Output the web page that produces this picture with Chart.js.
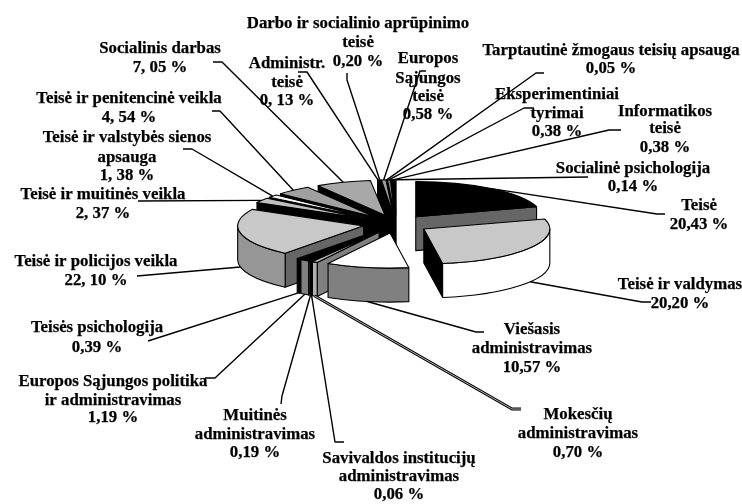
<!DOCTYPE html>
<html><head><meta charset="utf-8">
<style>html,body{margin:0;padding:0;background:#fff}canvas{display:block}</style>
<script src="https://cdn.jsdelivr.net/npm/chart.js@4"></script>
</head><body><canvas id="c" width="742" height="504"></canvas>
<script>
const categories = ["Teisė","Teisė ir valdymas","Viešasis administravimas","Mokesčių administravimas","Savivaldos institucijų administravimas","Muitinės administravimas","Europos Sąjungos politika ir administravimas","Teisės psichologija","Teisė ir policijos veikla","Teisė ir muitinės veikla","Teisė ir valstybės sienos apsauga","Teisė ir penitencinė veikla","Socialinis darbas","Administr. teisė","Darbo ir socialinio aprūpinimo teisė","Europos Sąjungos teisė","Tarptautinė žmogaus teisių apsauga","Eksperimentiniai tyrimai","Informatikos teisė","Socialinė psichologija"];
// Slice sizes as drawn. The second slice is printed "20,20 %" in the picture but drawn as about 27,2 %.
const shares = [20.43,27.20,10.57,0.70,0.06,0.19,1.19,0.39,22.10,2.37,1.38,4.54,7.05,0.13,0.20,0.58,0.05,0.38,0.38,0.14];
const printed = [
 ["Teisė","20,43 %"],["Teisė ir valdymas","20,20 %"],["Viešasis","administravimas","10,57 %"],
 ["Mokesčių","administravimas","0,70 %"],["Savivaldos institucijų","administravimas","0,06 %"],
 ["Muitinės","administravimas","0,19 %"],["Europos Sąjungos politika","ir administravimas","1,19 %"],
 ["Teisės psichologija","0,39 %"],["Teisė ir policijos veikla","22, 10 %"],["Teisė ir muitinės veikla","2, 37 %"],
 ["Teisė ir valstybės sienos","apsauga","1, 38 %"],["Teisė ir penitencinė veikla","4, 54 %"],["Socialinis darbas","7, 05 %"],
 ["Administr.","teisė","0, 13 %"],["Darbo ir socialinio aprūpinimo","teisė","0,20 %"],["Europos","Sąjungos","teisė","0,58 %"],
 ["Tarptautinė žmogaus teisių apsauga","0,05 %"],["Eksperimentiniai","tyrimai","0,38 %"],["Informatikos","teisė","0,38 %"],["Socialinė psichologija","0,14 %"]];
const topColors = ["#000000","#c8c8c8","#ffffff","#c0c0c0","#000000","#808080","#000000","#666666","#c8c8c8","#c0c0c0","#ffffff","#a0a0a0","#a8a8a8","#808080","#000000","#a0a0a0","#000000","#808080","#000000","#666666"];
const rimColors = ["#808080","#ffffff","#808080","#b0b0b0","#ffffff","#000000","#808080","#000000","#969696","#000000","#808080","#808080","#808080","#808080","#808080","#808080","#808080","#808080","#808080","#808080"];
const cutColors = ["#666666","#000000","#808080","#808080","#000000","#000000","#808080","#000000","#666666","#000000","#000000","#000000","#000000","#000000","#000000","#000000","#000000","#000000","#000000","#000000"];
const labelX = [699,680,532,578,399,255,113,97,96,103,127,129,160,287,358,428,611,557,665,633];
const labelY = [[206,225],[285,304],[330,349,368],[415,434,453],[459,477,495],[416,435,453],[382,401,418],[328,348],[262,281],[195,214],[138,158,176],[99,118],[49,68],[64,83,101],[24,43,62],[59,79,97,115],[51,69],[95,114,132],[112,129,148],[169,187]];
const leaderStart = [[[665,214],[657,214]],[[651,302],[642,302]],[[484,332],[476,332]],[[521,409],[512,409]],[[344,442],[335,442]],[[281,404],[282,396]],[[205,378],[215,378]],[[148,341]],[[137,276]],[[138,201]],[[183,149],[192,149]],[[212,111],[220,111]],[[213,62],[222,62]],[[298,72],[307,72]],[[347,73],[347,80]],[[426,71],[420,71]],[[544,73],[536,73]],[[534,108],[524,108]],[[621,130],[609,130]],[[588,177]]];
const SQUASH = 0.278, DEPTH = 34, EXPLODE = 33, RADIUS = 126;

const pie3d = {
  id:'pie3d',
  beforeDatasetsDraw(chart){
    const ctx = chart.ctx, meta = chart.getDatasetMeta(0);
    const w = meta.data.map((arc,i)=>{
      const a0 = arc.startAngle, a1 = arc.endAngle, m = (a0+a1)/2, e = arc.options.offset;
      return {i,a0,a1,m,R:arc.outerRadius,
        x:arc.x+e*Math.cos(m), y:arc.y+e*Math.sin(m)*SQUASH};
    });
    const stroke = ()=>{ctx.lineWidth=1.1;ctx.strokeStyle='#000';ctx.lineJoin='round';ctx.stroke();};
    const face = (p,a)=>{
      const px=p.x+p.R*Math.cos(a), py=p.y+p.R*SQUASH*Math.sin(a);
      ctx.beginPath();ctx.moveTo(p.x,p.y);ctx.lineTo(px,py);ctx.lineTo(px,py+DEPTH);ctx.lineTo(p.x,p.y+DEPTH);ctx.closePath();
      ctx.fillStyle=cutColors[p.i];ctx.fill();stroke();
    };
    [...w].sort((a,b)=>Math.sin(a.m)-Math.sin(b.m)).forEach(p=>{
      if(Math.cos(p.a0)<0) face(p,p.a0);
      if(Math.cos(p.a1)>0) face(p,p.a1);
      const r0=Math.max(p.a0,0), r1=Math.min(p.a1,Math.PI);
      if(r1>r0){
        ctx.beginPath();
        ctx.ellipse(p.x,p.y,p.R,p.R*SQUASH,0,r0,r1);
        ctx.ellipse(p.x,p.y+DEPTH,p.R,p.R*SQUASH,0,r1,r0,true);
        ctx.closePath();ctx.fillStyle=rimColors[p.i];ctx.fill();stroke();
      }
      ctx.beginPath();ctx.moveTo(p.x,p.y);
      ctx.ellipse(p.x,p.y,p.R,p.R*SQUASH,0,p.a0,p.a1);ctx.closePath();
      ctx.fillStyle=topColors[p.i];ctx.fill();stroke();
    });
    // leader lines
    w.forEach(p=>{
      const ex=p.x+p.R*Math.cos(p.m);
      const ey=p.y+p.R*SQUASH*Math.sin(p.m)+(Math.sin(p.m)>0?DEPTH:0);
      const pts=[...leaderStart[p.i],[ex,ey]];
      const line=()=>{ctx.beginPath();pts.forEach((q,k)=>k?ctx.lineTo(q[0],q[1]):ctx.moveTo(q[0],q[1]));};
      ctx.strokeStyle='#000';ctx.lineJoin='round';
      line();ctx.lineWidth=p.i===3?2.8:1.4;ctx.stroke();
      if(p.i===3){line();ctx.strokeStyle='#fff';ctx.lineWidth=0.7;ctx.stroke();}
    });
    // labels
    ctx.fillStyle='#000';ctx.strokeStyle='#000';ctx.lineWidth=0.25;
    ctx.font='bold 16.8px "Liberation Serif"';ctx.textAlign='center';ctx.textBaseline='middle';
    printed.forEach((lines,i)=>lines.forEach((t,k)=>{ctx.fillText(t,labelX[i],labelY[i][k]);ctx.strokeText(t,labelX[i],labelY[i][k]);}));
    return false;
  }
};
new Chart(document.getElementById('c'),{
  type:'pie',
  data:{labels:categories,datasets:[{data:shares,backgroundColor:topColors,offset:EXPLODE,borderWidth:0}]},
  options:{responsive:false,animation:false,radius:RADIUS,rotation:0,
    layout:{padding:{left:50,right:0,top:0,bottom:56}},
    plugins:{legend:{display:false},tooltip:{enabled:false}}},
  plugins:[pie3d]
});
</script></body></html>
